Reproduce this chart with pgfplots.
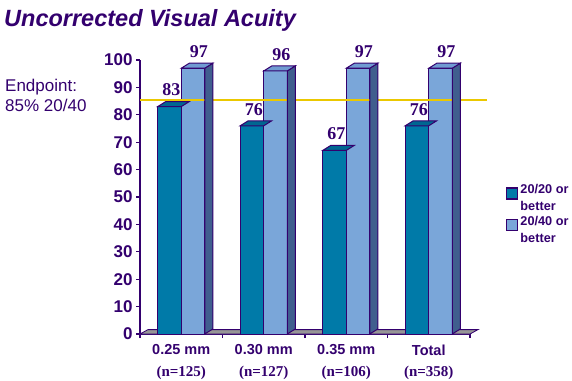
\documentclass[border=0pt]{standalone}
\usepackage{pgfplots}
\usepackage{pgfplotstable}
\pgfplotsset{compat=1.18}
\usepackage{fontspec}
\setmainfont{Liberation Sans}
\newfontfamily\serifb{Liberation Serif}
\definecolor{pur}{RGB}{51,0,110}
\definecolor{darkfront}{RGB}{0,122,168}
\definecolor{darktop}{RGB}{0,102,145}
\definecolor{lightfront}{RGB}{122,166,217}
\definecolor{lighttop}{RGB}{112,155,210}
\definecolor{sidecol}{RGB}{64,94,142}
\definecolor{floorcol}{RGB}{150,150,150}
\definecolor{ylw}{RGB}{235,200,0}
\pgfdeclareplotmark{topdark}{%
  \pgfpathmoveto{\pgfpoint{-23.5pt}{0pt}}%
  \pgfpathlineto{\pgfpoint{0pt}{0pt}}%
  \pgfpathlineto{\pgfpoint{8pt}{5pt}}%
  \pgfpathlineto{\pgfpoint{-15.5pt}{5pt}}%
  \pgfpathclose\pgfusepathqfillstroke}
\pgfdeclareplotmark{toplight}{%
  \pgfpathmoveto{\pgfpoint{0pt}{0pt}}%
  \pgfpathlineto{\pgfpoint{23.5pt}{0pt}}%
  \pgfpathlineto{\pgfpoint{31.5pt}{5pt}}%
  \pgfpathlineto{\pgfpoint{8pt}{5pt}}%
  \pgfpathclose\pgfusepathqfillstroke}
\pgfdeclareplotmark{sidelight}{%
  \pgfmathsetlengthmacro\hh{\rawy*2.74pt}%
  \pgfpathmoveto{\pgfpoint{23.5pt}{0pt}}%
  \pgfpathlineto{\pgfpoint{31.5pt}{5pt}}%
  \pgfpathlineto{\pgfpoint{31.5pt}{5pt-\hh}}%
  \pgfpathlineto{\pgfpoint{23.5pt}{-\hh}}%
  \pgfpathclose\pgfusepathqfillstroke}
\pgfplotstableread{
x v20 v40
0 83 97
1 76 96
2 67 97
3 76 97
}\datatable
\begin{document}
\begin{tikzpicture}
\path[use as bounding box] (0,0) rectangle (572pt,380pt);
\node[anchor=base west, text=pur, font=\bfseries\itshape\fontsize{23.5}{28}\selectfont, inner sep=0] at (4pt,353pt) {Uncorrected Visual Acuity};
\node[anchor=base west, text=pur, font=\fontsize{17}{20}\selectfont, inner sep=0] at (5pt,288pt) {Endpoint:};
\node[anchor=base west, text=pur, font=\fontsize{17}{20}\selectfont, inner sep=0] at (5pt,268pt) {85\% 20/40};
\begin{axis}[
  at={(140pt,46pt)}, anchor=south west,
  x=82.5pt, y=2.74pt,
  xmin=-0.5, xmax=3.5, ymin=0, ymax=100,
  axis lines=left,
  axis line style={-, draw=pur, line width=1.6pt},
  clip=false,
  ytick={0,10,...,100},
  tick align=outside,
  major tick length=4pt,
  tick style={draw=pur, line width=1.2pt},
  yticklabel style={text=pur, font=\bfseries\fontsize{17}{17}\selectfont},
  /pgf/number format/assume math mode=true,
  xtick={0,1,2,3},
  xtick style={draw=none},
  xticklabels={
    {0.25 mm\\{\serifb\bfseries\fontsize{15}{21}\selectfont (n=125)}},
    {0.30 mm\\{\serifb\bfseries\fontsize{15}{21}\selectfont (n=127)}},
    {0.35 mm\\{\serifb\bfseries\fontsize{15}{21}\selectfont (n=106)}},
    {Total\\{\serifb\bfseries\fontsize{15}{21}\selectfont (n=358)}}},
  xticklabel style={text=pur, align=center, font=\bfseries\fontsize{14.5}{21.5}\selectfont, yshift=-3pt},
  extra x ticks={-0.5,0.5,1.5,2.5,3.5},
  extra x tick labels={},
  extra x tick style={xtick style={draw=pur, line width=1.2pt}},
  legend style={at={(1.109,0.555)}, anchor=north west, draw=none, fill=none,
    font=\bfseries\fontsize{12.7}{17}\selectfont, text=pur,
    cells={align=left, anchor=west}, row sep=0pt, inner sep=0pt},
  legend image code/.code={\draw[#1, draw=pur, line width=1.3pt] (0pt,-1pt) rectangle (11pt,10pt);},
]
% floor
\addplot[fill=floorcol, draw=pur, line width=0.8pt, forget plot] coordinates {(-0.5,0) (3.5,0) (3.597,1.6) (-0.403,1.6)} -- cycle;
% dark bars
\addplot[ybar, bar width=23.5pt, bar shift=-11.75pt, fill=darkfront, draw=pur, line width=1pt] table[x=x, y=v20] {\datatable};
\addlegendentry{20/20 or\\better}
\addplot[only marks, mark=topdark, mark options={fill=darktop, draw=pur, line width=1pt},
  nodes near coords, point meta=explicit symbolic,
  every node near coord/.style={anchor=south, inner sep=0pt, xshift=-10pt, yshift=10pt, text=pur, font=\serifb\bfseries\fontsize{18}{18}\selectfont},
  forget plot] table[x=x, y=v20, meta=v20] {\datatable};
% light bars
\addplot[only marks, mark=sidelight, visualization depends on={rawy \as \rawy},
  mark options={fill=sidecol, draw=pur, line width=1pt}, forget plot] table[x=x, y=v40] {\datatable};
\addplot[ybar, bar width=23.5pt, bar shift=11.75pt, fill=lightfront, draw=pur, line width=1pt] table[x=x, y=v40] {\datatable};
\addlegendentry{20/40 or\\better}
\addplot[only marks, mark=toplight, mark options={fill=lighttop, draw=pur, line width=1pt},
  nodes near coords, point meta=explicit symbolic,
  every node near coord/.style={anchor=south, inner sep=0pt, xshift=17.5pt, yshift=10pt, text=pur, font=\serifb\bfseries\fontsize{18}{18}\selectfont},
  forget plot] table[x=x, y=v40, meta=v40] {\datatable};
% endpoint line
\addplot[ylw, line width=1.6pt, forget plot] coordinates {(-0.5,85.5) (3.7,85.5)};
\end{axis}
\end{tikzpicture}
\end{document}
